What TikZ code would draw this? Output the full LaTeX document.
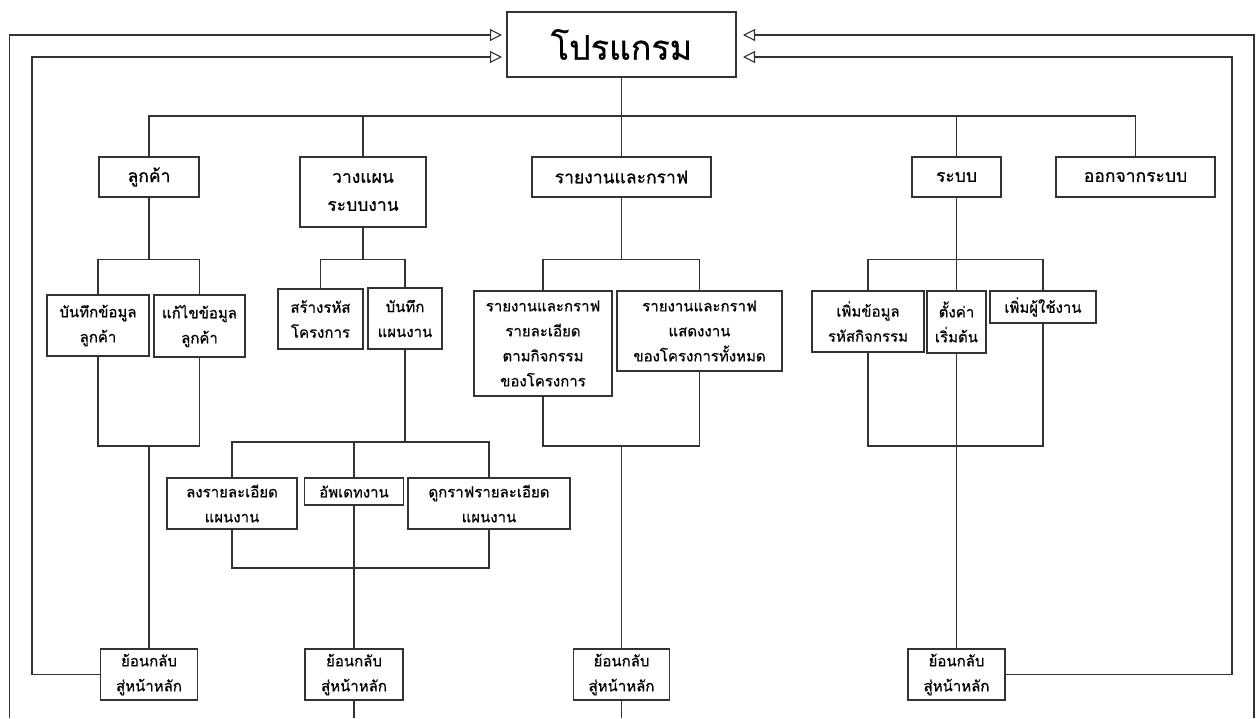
\documentclass[tikz,border=0pt]{standalone}
\usepackage{fontspec}
\newfontfamily\thaifont[Script=Thai,FakeBold=0.6]{Loma}
\usetikzlibrary{arrows.meta}

\tikzset{
  box/.style={draw=black!80, line width=1.1pt, fill=white, align=center, inner sep=0pt,
    font=\thaifont\fontsize{15}{25}\selectfont},
  top/.style={box, font=\thaifont\fontsize{17.5}{28}\selectfont},
  sz/.style 2 args={minimum width=#1pt, minimum height=#2pt},
  link/.style={draw=black!80, line width=1.1pt},
  back/.style={link, -{Triangle[open, length=12pt, width=12pt]}}
}

\begin{document}
\begin{tikzpicture}[x=1pt,y=-1pt]
\useasboundingbox (0,0) rectangle (1256,718);
% main level
\node[box, sz={229}{65}, font=\thaifont\fontsize{34}{40}\selectfont] (prog) at (621.5,44.5) {โปรแกรม};
\node[top, sz={100}{40}] (cust) at (149,177) {ลูกค้า};
\node[top, sz={126}{70}] (plan) at (363,192) {วางแผน\\ระบบงาน};
\node[top, sz={179}{40}] (report) at (621.5,177) {รายงานและกราฟ};
\node[top, sz={89}{40}] (sys) at (956.5,177) {ระบบ};
\node[top, sz={159}{40}] (quit) at (1135.5,177) {ออกจากระบบ};
% second level
\node[box, sz={102}{61}] (custAdd) at (98,325.5) {บันทึกข้อมูล\\ลูกค้า};
\node[box, sz={91}{62}] (custEdit) at (199.5,326) {แก้ไขข้อมูล\\ลูกค้า};
\node[box, sz={85}{60}] (code) at (320.5,319) {สร้างรหัส\\โครงการ};
\node[box, sz={74}{61}] (save) at (405,318.5) {บันทึก\\แผนงาน};
\node[box, sz={138}{105}] (repA) at (543,343.5) {รายงานและกราฟ\\รายละเอียด\\ตามกิจกรรม\\ของโครงการ};
\node[box, sz={165}{80}] (repB) at (699.5,331) {รายงานและกราฟ\\แสดงงาน\\ของโครงการทั้งหมด};
\node[box, sz={112}{61}] (addCode) at (868,321.5) {เพิ่มข้อมูล\\รหัสกิจกรรม};
\node[box, sz={59}{62}] (setting) at (956.5,322) {ตั้งค่า\\เริ่มต้น};
\node[box, sz={106}{32}] (addUser) at (1043,307) {เพิ่มผู้ใช้งาน};
% plan details
\node[box, sz={130}{51}] (detail) at (232,503.5) {ลงรายละเอียด\\แผนงาน};
\node[box, sz={99}{27}] (update) at (354,491.5) {อัพเดทงาน};
\node[box, sz={162}{51}] (graph) at (489,503.5) {ดูกราฟรายละเอียด\\แผนงาน};
% back buttons
\node[box, sz={97}{51}] (back1) at (149,674.5) {ย้อนกลับ\\สู่หน้าหลัก};
\node[box, sz={98}{51}] (back2) at (354,674.5) {ย้อนกลับ\\สู่หน้าหลัก};
\node[box, sz={96}{51}] (back3) at (621.5,674.5) {ย้อนกลับ\\สู่หน้าหลัก};
\node[box, sz={97}{51}] (back4) at (956.5,674.5) {ย้อนกลับ\\สู่หน้าหลัก};

\coordinate (topbus) at (0,116);
\coordinate (bus1) at (0,259.5);
\coordinate (bus2) at (0,446);
\coordinate (pbus2) at (0,442);
\coordinate (pbus3) at (0,568);
\coordinate (cornerL) at (32,57);
\coordinate (cornerR) at (1232,57);
\coordinate (inL) at (502,57);
\coordinate (outL) at (502,35);
\coordinate (inR) at (743,57);
\coordinate (outR) at (743,35);
\coordinate (endL) at (9.5,718);
\coordinate (endR) at (1254,718);
\coordinate (end2) at (354,718);
\coordinate (end3) at (621.5,718);

% tree
\draw[link] (prog.south) -- (prog.south |- topbus);
\draw[link] (cust.north) -- (cust.north |- topbus) -- (quit.north |- topbus) -- (quit.north);
\foreach \n in {plan,report,sys} \draw[link] (\n.north) -- (\n.north |- topbus);

\draw[link] (cust.south) -- (cust.south |- bus1);
\draw[link] (custAdd.north) |- (custEdit.north |- bus1) -- (custEdit.north);
\draw[link] (custAdd.south) |- (custEdit.south |- bus2) -- (custEdit.south);
\draw[link] (cust.south |- bus2) -- (back1.north);

\draw[link] (plan.south) -- (plan.south |- bus1);
\draw[link] (code.north) |- (save.north |- bus1) -- (save.north);
\draw[link] (save.south) -- (save.south |- pbus2);
\draw[link] (detail.north) |- (graph.north |- pbus2) -- (graph.north);
\draw[link] (update.north) -- (update.north |- pbus2);
\draw[link] (detail.south) |- (graph.south |- pbus3) -- (graph.south);
\draw[link] (update.south) -- (back2.north);
\draw[link] (back2.south) -- (end2);

\draw[link] (report.south) -- (report.south |- bus1);
\draw[link] (repA.north) |- (repB.north |- bus1) -- (repB.north);
\draw[link] (repA.south) |- (repB.south |- bus2) -- (repB.south);
\draw[link] (report.south |- bus2) -- (back3.north);
\draw[link] (back3.south) -- (end3);

\draw[link] (sys.south) -- (setting.north);
\draw[link] (addCode.north) |- (addUser.north |- bus1) -- (addUser.north);
\draw[link] (addCode.south) |- (addUser.south |- bus2) -- (addUser.south);
\draw[link] (setting.south) -- (back4.north);

% way back
\draw[back] (back1.west) -| (cornerL) -- (inL);
\draw[back] (endL) |- (outL);
\draw[back] (back4.east) -| (cornerR) -- (inR);
\draw[back] (endR) |- (outR);
\end{tikzpicture}
\end{document}
